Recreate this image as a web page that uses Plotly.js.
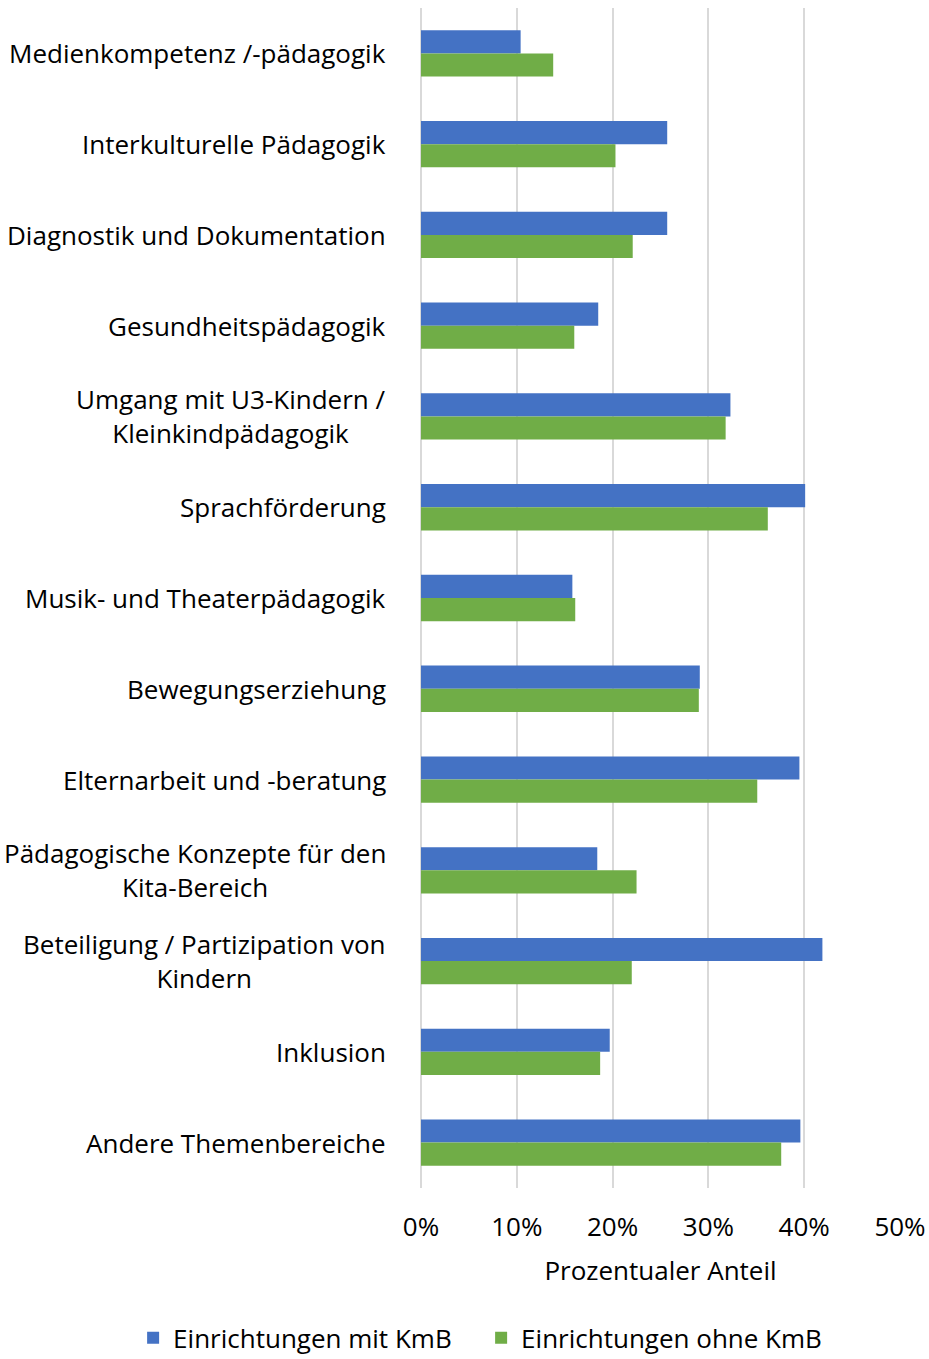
<!DOCTYPE html>
<html><head><meta charset="utf-8">
<script src="https://cdn.plot.ly/plotly-3.0.1.min.js"></script>
<style>body{margin:0;background:#fff}#chart{width:929px;height:1359px}</style>
</head><body><div id="chart"></div>
<script>
var categories = [
  "Medienkompetenz /-pädagogik",
  "Interkulturelle Pädagogik",
  "Diagnostik und Dokumentation",
  "Gesundheitspädagogik",
  "Umgang mit U3-Kindern /<br>Kleinkindpädagogik",
  "Sprachförderung",
  "Musik- und Theaterpädagogik",
  "Bewegungserziehung",
  "Elternarbeit und -beratung",
  "Pädagogische Konzepte für den<br>Kita-Bereich",
  "Beteiligung / Partizipation von<br>Kindern",
  "Inklusion",
  "Andere Themenbereiche"
];
var mitKmB  = [0.104, 0.257, 0.257, 0.185, 0.323, 0.401, 0.158, 0.291, 0.395, 0.184, 0.419, 0.197, 0.396];
var ohneKmB = [0.138, 0.203, 0.221, 0.160, 0.318, 0.362, 0.161, 0.290, 0.351, 0.225, 0.220, 0.187, 0.376];
var seriesNames = ["Einrichtungen mit KmB", "Einrichtungen ohne KmB"];
var xTickVals = [0, 0.1, 0.2, 0.3, 0.4, 0.5];
var xTickText = ["0%", "10%", "20%", "30%", "40%", "50%"];

var FONT = "Open Sans, Noto Sans, sans-serif";
var FS = 26;
var data = [
  {type:"bar", orientation:"h", name:seriesNames[0], y:categories, x:mitKmB,
   marker:{color:"#4472C4"}, hoverinfo:"x+y"},
  {type:"bar", orientation:"h", name:seriesNames[1], y:categories, x:ohneKmB,
   marker:{color:"#70AD47"}, hoverinfo:"x+y"}
];
var annotations = categories.map(function(c){
  return {xref:"paper", yref:"y", x:0, y:c, xanchor:"right", yanchor:"middle",
          xshift:-33, text:c, showarrow:false, align:"center",
          font:{family:FONT, size:FS, color:"#000"}};
});
var layout = {
  width:929, height:1359,
  margin:{l:421, r:29, t:8, b:171, autoexpand:false},
  paper_bgcolor:"#fff", plot_bgcolor:"#fff",
  font:{family:FONT, size:FS, color:"#000"},
  barmode:"group", bargap:0.49, bargroupgap:0,
  xaxis:{range:[0,0.5], tickvals:xTickVals, ticktext:xTickText, automargin:false,
         showgrid:true, gridcolor:"#D9D9D9", gridwidth:2, zeroline:true, zerolinecolor:"#D9D9D9", zerolinewidth:2,
         showline:false, ticks:"", ticklabelstandoff:21,
         tickfont:{family:FONT, size:FS, color:"#000"},
         title:{text:"Prozentualer Anteil", standoff:18, font:{family:FONT, size:FS, color:"#000"}}},
  yaxis:{type:"category", autorange:"reversed", showticklabels:false, showgrid:false, zeroline:false, showline:false, ticks:"", automargin:false},
  showlegend:true,
  legend:{orientation:"h", x:-0.601, xanchor:"left", y:-0.127, yanchor:"middle",
          entrywidth:303, entrywidthmode:"pixels",
          font:{family:FONT, size:FS, color:"#000"}, tracegroupgap:0},
  annotations:annotations
};
Plotly.newPlot("chart", data, layout, {displayModeBar:false, staticPlot:true});
</script></body></html>
